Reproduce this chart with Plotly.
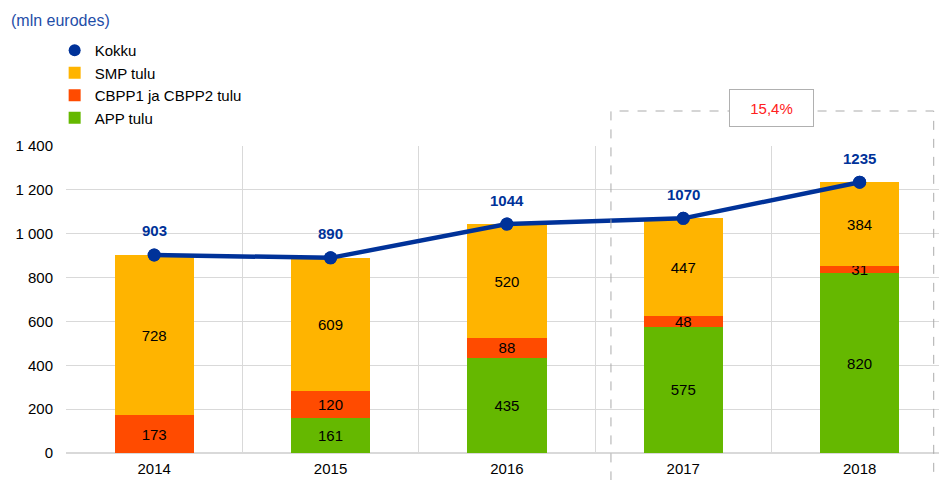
import plotly.graph_objects as go

years = ["2014", "2015", "2016", "2017", "2018"]
app = [None, 161, 435, 575, 820]
cbpp = [173, 120, 88, 48, 31]
smp = [728, 609, 520, 447, 384]
total = [903, 890, 1044, 1070, 1235]
growth_label = "15,4%"

C_SMP = "#FFB400"
C_CBPP = "#FF4B00"
C_APP = "#65B800"
C_TOT = "#003299"
FONT = "Liberation Sans, Arial, sans-serif"
FS = 15

fig = go.Figure()

def bar(name, vals, color, rank):
    fig.add_trace(go.Bar(
        x=years, y=vals, name=name, marker=dict(color=color, line=dict(width=0)),
        text=[("" if v is None else str(v)) for v in vals],
        textposition="inside", insidetextanchor="middle", textangle=0,
        textfont=dict(color="black", size=FS, family=FONT),
        width=0.45, legendrank=rank,
    ))

bar("APP tulu", app, C_APP, 4)
bar("CBPP1 ja CBPP2 tulu", cbpp, C_CBPP, 3)
bar("SMP tulu", smp, C_SMP, 2)

fig.add_trace(go.Scatter(
    x=years, y=total, mode="lines+markers", showlegend=False,
    line=dict(color=C_TOT, width=4.5), marker=dict(size=13, color=C_TOT),
))
fig.add_trace(go.Scatter(
    x=years, y=total, mode="markers", name="Kokku", legendrank=1,
    marker=dict(size=13, color=C_TOT),
))

for i, t in enumerate(total):
    fig.add_annotation(x=i, y=t, xref="x", yref="y", text=f"<b>{t}</b>", showarrow=False,
                       yshift=24, font=dict(color=C_TOT, size=FS, family=FONT))

fig.add_shape(type="rect", xref="x", yref="paper", x0=2.59, x1=4.42, y0=-0.3, y1=1.114,
              line=dict(color="#ababab", width=1, dash="dash"), layer="above")
fig.add_annotation(x=3.5, xref="x", yref="paper", y=1.124, yanchor="middle", xanchor="center",
                   text=growth_label, showarrow=False,
                   width=83, height=36, bgcolor="white", bordercolor="#b0b0b0", borderwidth=1,
                   borderpad=0, font=dict(color="#FF2020", size=FS, family=FONT))

fig.add_annotation(xref="paper", yref="paper", x=-0.065, y=1.41, xanchor="left", yanchor="middle",
                   text="(mln eurodes)", showarrow=False,
                   font=dict(color="#1f4ea8", size=16, family=FONT))

fig.update_layout(
    width=939, height=480, barmode="stack",
    margin=dict(l=66, r=0, t=146, b=27, autoexpand=False),
    paper_bgcolor="white", plot_bgcolor="white",
    separators=", ",
    font=dict(family=FONT, size=FS, color="black"),
    uniformtext=dict(minsize=FS, mode="show"),
    legend=dict(x=-0.013, y=1.365, xanchor="left", yanchor="top", traceorder="normal",
                font=dict(size=FS, family=FONT), itemsizing="constant",
                tracegroupgap=0, bgcolor="rgba(0,0,0,0)"),
    showlegend=True,
)
fig.update_xaxes(type="category", range=[-0.5, 4.45], tickson="boundaries", showgrid=True,
                 gridcolor="#d9d9d9", gridwidth=1, ticks="", showline=False,
                 tickfont=dict(size=FS), ticklabelstandoff=5)
fig.update_yaxes(range=[0, 1400], dtick=200, tickformat=",d", showgrid=True,
                 gridcolor="#d9d9d9", gridwidth=1, zeroline=True, zerolinecolor="#d9d9d9",
                 ticks="", tickfont=dict(size=FS), ticklabelstandoff=12)

fig.write_html("out.html", config={"displayModeBar": False},
               post_script="document.body.style.margin='0';")
